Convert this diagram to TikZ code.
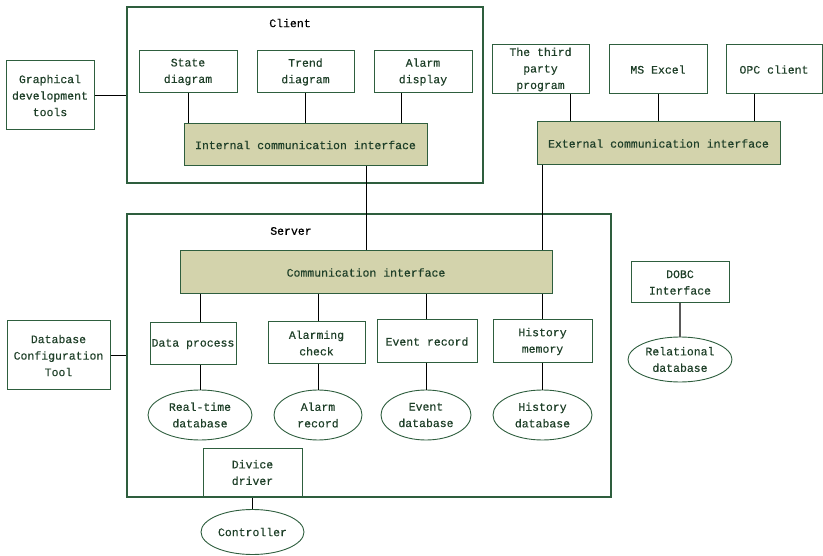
\documentclass[tikz,border=0pt]{standalone}
\usepackage{fontspec}
\setmainfont{Liberation Mono}[UprightFeatures={FakeBold=0.4}]
\usetikzlibrary{shapes.geometric}
\definecolor{bd}{HTML}{2E5E3E}
\definecolor{tx}{HTML}{1E3F28}
\definecolor{olive}{HTML}{D3D3AC}
\tikzset{
  box/.style={draw=bd, line width=1pt, text=tx, align=center, inner sep=1pt, font=\fontsize{11.5}{16.5}\selectfont},
  ibox/.style={box, fill=olive},
  ell/.style={ellipse, draw=bd, line width=0.9pt, text=tx, align=center, inner sep=0pt, font=\fontsize{11.5}{16.5}\selectfont},
  frame/.style={draw=bd, line width=1.5pt},
  ln/.style={draw=black, line width=0.8pt},
  lbl/.style={text=black, font=\fontsize{11.5}{13}\selectfont}
}
\begin{document}
\begin{tikzpicture}[x=1pt,y=-1pt]
\useasboundingbox (0,0) rectangle (823,556);
% Client
\node[frame, minimum width=356, minimum height=176] (client) at (305,95) {};
\node[lbl] (clientl) at (290,23) {Client};
\node[box, minimum width=98, minimum height=42] (sd) at (188,72) {State\\diagram};
\node[box, minimum width=97, minimum height=42] (td) at (305.5,72) {Trend\\diagram};
\node[box, minimum width=98, minimum height=42] (ad) at (423,72) {Alarm\\display};
\node[ibox, minimum width=243, minimum height=42] (ici) at (305.5,145) {Internal communication interface};
\node[box, minimum width=88, minimum height=69] (gdt) at (50,95.5) {Graphical\\development\\tools};
% External
\node[box, minimum width=97, minimum height=49] (tp) at (540.5,69.5) {The third\\party\\program};
\node[box, minimum width=98, minimum height=49] (mse) at (658,69.5) {MS Excel};
\node[box, minimum width=96, minimum height=49] (opc) at (774,69.5) {OPC client};
\node[ibox, minimum width=243, minimum height=43] (eci) at (658.5,143.5) {External communication interface};
% Server
\node[frame, minimum width=484, minimum height=283] (server) at (369,355.5) {};
\node[lbl] (serverl) at (291,231) {Server};
\node[ibox, minimum width=372, minimum height=43] (ci) at (366,272.5) {Communication interface};
\node[box, minimum width=86, minimum height=42] (dp) at (193,344) {Data process};
\node[box, minimum width=97, minimum height=42] (ac) at (316.5,343) {Alarming\\check};
\node[box, minimum width=100, minimum height=43] (er) at (427,341.5) {Event record};
\node[box, minimum width=99, minimum height=43] (hm) at (542.5,341.5) {History\\memory};
\node[ell, minimum width=104, minimum height=50] (rtd) at (200,415) {Real-time\\database};
\node[ell, minimum width=88, minimum height=50] (ar) at (318,415) {Alarm\\record};
\node[ell, minimum width=90, minimum height=50] (ed) at (426,415) {Event\\database};
\node[ell, minimum width=99, minimum height=50] (hd) at (542.5,415) {History\\database};
\node[box, minimum width=99, minimum height=49] (dd) at (252.5,472.5) {Divice\\driver};
\node[ell, minimum width=103, minimum height=45] (ctl) at (252.5,532) {Controller};
\node[box, minimum width=103, minimum height=69] (dct) at (58.5,355.5) {Database\\Configuration\\Tool};
% DOBC
\node[box, minimum width=98, minimum height=41] (dobc) at (680,282.5) {DOBC\\Interface};
\node[ell, minimum width=104, minimum height=45] (rdb) at (680,359.5) {Relational\\database};
% connectors
\draw[ln] (sd.south) -- (sd.south |- ici.north);
\draw[ln] (td.south) -- (ici.north -| td.south);
\draw[ln] ([xshift=-22pt]ad.south) -- ([xshift=-22pt]ad.south |- ici.north);
\draw[ln] (gdt.east) -- (client.west |- gdt.east);
\draw[ln] ([xshift=60.5pt]ici.south) -- ([xshift=60.5pt]ici.south |- ci.north);
\draw[ln] ([xshift=29.5pt]tp.south) -- ([xshift=29.5pt]tp.south |- eci.north);
\draw[ln] (mse.south) -- (mse.south |- eci.north);
\draw[ln] ([xshift=-20pt]opc.south) -- ([xshift=-20pt]opc.south |- eci.north);
\draw[ln] ([xshift=-116.5pt]eci.south) -- ([xshift=-116.5pt]eci.south |- ci.north);
\draw[ln] ([xshift=7pt]dp.north) -- ([xshift=7pt]dp.north |- ci.south);
\draw[ln] ([xshift=1.5pt]ac.north) -- ([xshift=1.5pt]ac.north |- ci.south);
\draw[ln] ([xshift=-1pt]er.north) -- ([xshift=-1pt]er.north |- ci.south);
\draw[ln] (hm.north) -- (hm.north |- ci.south);
\draw[ln] ([xshift=7pt]dp.south) -- (rtd.north);
\draw[ln] ([xshift=1.5pt]ac.south) -- (ar.north);
\draw[ln] ([xshift=-1pt]er.south) -- (ed.north);
\draw[ln] (hm.south) -- (hd.north);
\draw[ln] (dd.south) -- (ctl.north);
\draw[ln] (dct.east) -- (server.west |- dct.east);
\draw[ln, draw=gray!70!black, line width=1.2pt] (dobc.south) -- (rdb.north);
\end{tikzpicture}
\end{document}
